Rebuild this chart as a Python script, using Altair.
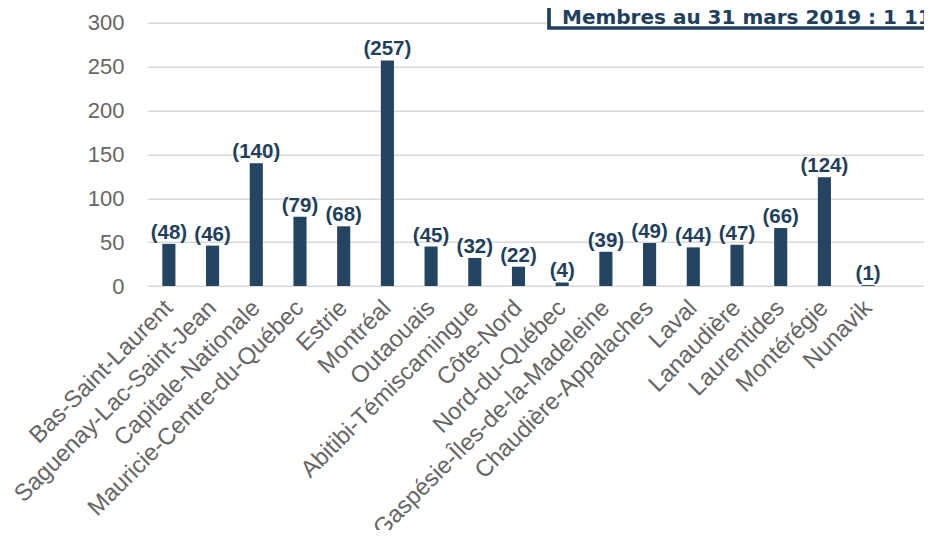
import altair as alt
import pandas as pd

regions = ["Bas-Saint-Laurent", "Saguenay-Lac-Saint-Jean", "Capitale-Nationale",
           "Mauricie-Centre-du-Québec", "Estrie", "Montréal", "Outaouais",
           "Abitibi-Témiscamingue", "Côte-Nord", "Nord-du-Québec",
           "Gaspésie-Îles-de-la-Madeleine", "Chaudière-Appalaches", "Laval",
           "Lanaudière", "Laurentides", "Montérégie", "Nunavik"]
values = [48, 46, 140, 79, 68, 257, 45, 32, 22, 4, 39, 49, 44, 47, 66, 124, 1]
y_ticks = [0, 50, 100, 150, 200, 250, 300]
box_text = "Membres au 31 mars 2019 : 1 111"

FONT = "Liberation Sans"
BLUE = "#244562"
TXT = "#1F3F5F"
GRAY = "#666666"

df = pd.DataFrame({"region": regions, "value": values})
df["label"] = ["(" + str(v) + ")" for v in values]

x = alt.X("region:N", sort=regions, title=None,
          scale=alt.Scale(paddingInner=0.7, paddingOuter=0.74, align=0.237),
          axis=alt.Axis(labelAngle=-45, labelFontSize=23.7, labelColor=GRAY,
                        labelFont=FONT, ticks=False, domain=False, labelPadding=18,
                        labelBaseline="middle", labelAlign="right",
                        labelOverlap=False, labelLimit=0))
y = alt.Y("value:Q", title=None,
          scale=alt.Scale(domain=[0, 300], nice=False),
          axis=alt.Axis(values=y_ticks, labelFontSize=22, labelColor=GRAY,
                        labelFont=FONT, ticks=False, domain=False, labelPadding=23,
                        gridColor="#D9D9D9", gridWidth=1.5))

base = alt.Chart(df)
bars = base.mark_bar(color=BLUE).encode(x=x, y=y)
labels = base.mark_text(font=FONT, fontSize=20.5, fontWeight="bold", color=TXT,
                        baseline="bottom", dy=-1).encode(
    x=alt.X("region:N", sort=regions),
    y=alt.Y("value:Q"),
    text="label:N")

box_df = pd.DataFrame({"t": [box_text]})
box = alt.Chart(box_df).mark_rect(fill="white", stroke=TXT, strokeWidth=3.7).encode(
    x=alt.value(402), x2=alt.value(1100), y=alt.value(-60), y2=alt.value(5.3))
box_label = alt.Chart(box_df).mark_text(font="DejaVu Sans", fontSize=20, fontWeight="bold",
                                        color=TXT, align="left",
                                        baseline="alphabetic").encode(
    x=alt.value(415), y=alt.value(0.9), text="t:N")

chart = alt.layer(bars, labels, box, box_label).properties(
    width=777, height=263.3,
    autosize=alt.AutoSizeParams(type="none"),
    padding={"left": 139, "top": 14.7, "right": 0, "bottom": 244},
).configure_view(stroke=None)

chart.save("out.html", embed_options={"renderer": "svg", "actions": False})
